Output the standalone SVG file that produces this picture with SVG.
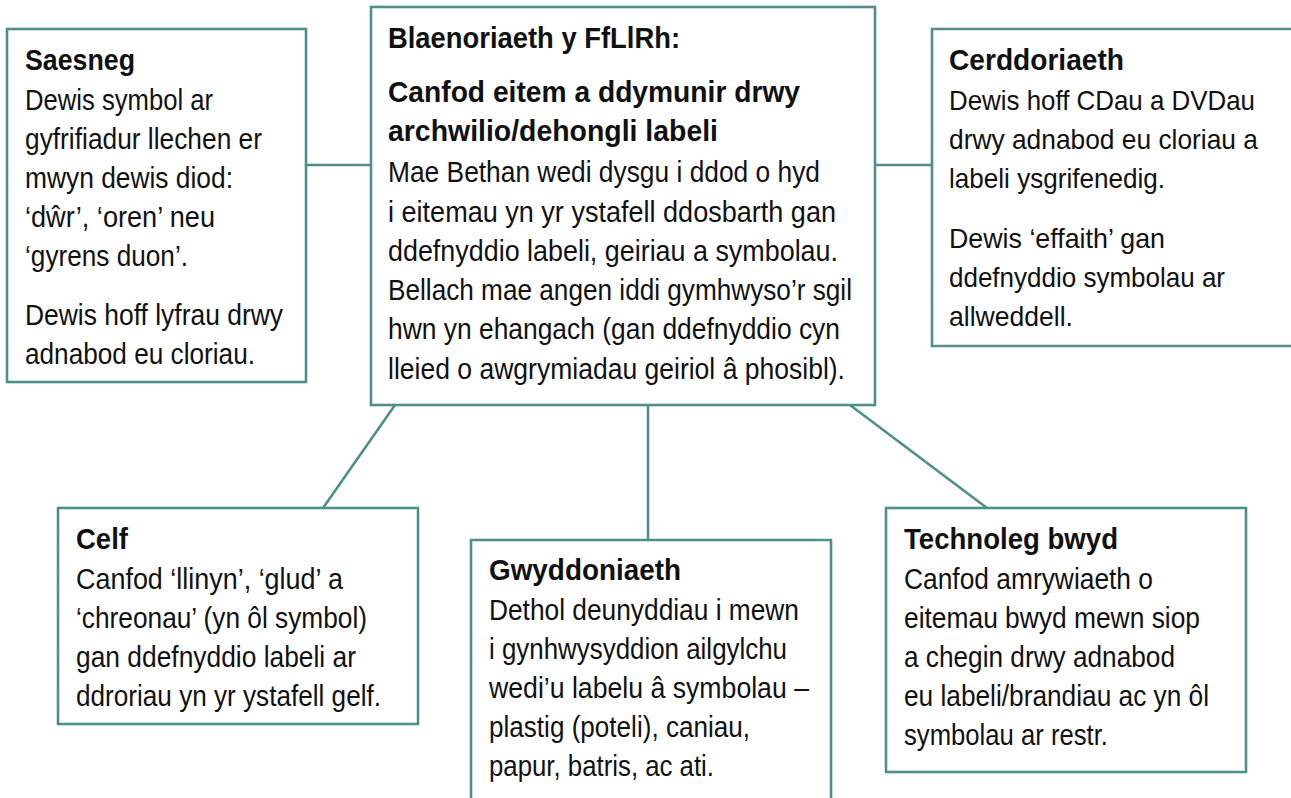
<svg xmlns="http://www.w3.org/2000/svg" width="1291" height="798" viewBox="0 0 1291 798">
<style>
.box{fill:#fff;stroke:#4e9088;stroke-width:2.6}
.ln{stroke:#4e9088;stroke-width:2.6;fill:none}
text{font-family:"Liberation Sans",Arial,sans-serif;font-size:30px;fill:#111}
.h{font-weight:bold}
.s{font-size:28px}
</style>
<rect width="1291" height="798" fill="#fff"/>
<g id="connectors">
<line class="ln" x1="306" y1="165" x2="371" y2="165"/>
<line class="ln" x1="875" y1="165" x2="932" y2="165"/>
<line class="ln" x1="395" y1="405" x2="323" y2="508"/>
<line class="ln" x1="648" y1="405" x2="648" y2="540"/>
<line class="ln" x1="850" y1="405" x2="987" y2="508"/>
</g>
<g id="saesneg">
<rect class="box" x="7" y="29" width="299" height="353"/>
<text class="h" x="25" y="70" textLength="110" lengthAdjust="spacingAndGlyphs">Saesneg</text>
<text x="25" y="110" textLength="188" lengthAdjust="spacingAndGlyphs">Dewis symbol ar</text>
<text x="25" y="149" textLength="237" lengthAdjust="spacingAndGlyphs">gyfrifiadur llechen er</text>
<text x="25" y="188" textLength="208" lengthAdjust="spacingAndGlyphs">mwyn dewis diod:</text>
<text x="25" y="227" textLength="190" lengthAdjust="spacingAndGlyphs">‘dŵr’, ‘oren’ neu</text>
<text x="25" y="266" textLength="163" lengthAdjust="spacingAndGlyphs">‘gyrens duon’.</text>
<text x="25" y="325" textLength="258" lengthAdjust="spacingAndGlyphs">Dewis hoff lyfrau drwy</text>
<text x="25" y="364" textLength="230" lengthAdjust="spacingAndGlyphs">adnabod eu cloriau.</text>
</g>
<g id="blaenoriaeth">
<rect class="box" x="371" y="7" width="504" height="398"/>
<text class="h" x="388" y="48" textLength="292" lengthAdjust="spacingAndGlyphs">Blaenoriaeth y FfLlRh:</text>
<text class="h" x="388" y="102" textLength="412" lengthAdjust="spacingAndGlyphs">Canfod eitem a ddymunir drwy</text>
<text class="h" x="388" y="141" textLength="330" lengthAdjust="spacingAndGlyphs">archwilio/dehongli labeli</text>
<text x="388" y="182" textLength="432" lengthAdjust="spacingAndGlyphs">Mae Bethan wedi dysgu i ddod o hyd</text>
<text x="388" y="222" textLength="448" lengthAdjust="spacingAndGlyphs">i eitemau yn yr ystafell ddosbarth gan</text>
<text x="388" y="261" textLength="450" lengthAdjust="spacingAndGlyphs">ddefnyddio labeli, geiriau a symbolau.</text>
<text x="388" y="300" textLength="464" lengthAdjust="spacingAndGlyphs">Bellach mae angen iddi gymhwyso’r sgil</text>
<text x="388" y="339" textLength="452" lengthAdjust="spacingAndGlyphs">hwn yn ehangach (gan ddefnyddio cyn</text>
<text x="388" y="379" textLength="457" lengthAdjust="spacingAndGlyphs">lleied o awgrymiadau geiriol â phosibl).</text>
</g>
<g id="cerddoriaeth">
<path class="box" d="M1292 29 H932 V346 H1292"/>
<text class="h" x="949" y="70" textLength="175" lengthAdjust="spacingAndGlyphs">Cerddoriaeth</text>
<text class="s" x="949" y="110" textLength="306" lengthAdjust="spacingAndGlyphs">Dewis hoff CDau a DVDau</text>
<text class="s" x="949" y="149" textLength="309" lengthAdjust="spacingAndGlyphs">drwy adnabod eu cloriau a</text>
<text class="s" x="949" y="188" textLength="216" lengthAdjust="spacingAndGlyphs">labeli ysgrifenedig.</text>
<text class="s" x="949" y="248" textLength="216" lengthAdjust="spacingAndGlyphs">Dewis ‘effaith’ gan</text>
<text class="s" x="949" y="287" textLength="276" lengthAdjust="spacingAndGlyphs">ddefnyddio symbolau ar</text>
<text class="s" x="949" y="326" textLength="124" lengthAdjust="spacingAndGlyphs">allweddell.</text>
</g>
<g id="celf">
<rect class="box" x="58" y="508" width="360" height="216"/>
<text class="h" x="76" y="549" textLength="52" lengthAdjust="spacingAndGlyphs">Celf</text>
<text x="76" y="589" textLength="267" lengthAdjust="spacingAndGlyphs">Canfod ‘llinyn’, ‘glud’ a</text>
<text x="76" y="628" textLength="291" lengthAdjust="spacingAndGlyphs">‘chreonau’ (yn ôl symbol)</text>
<text x="76" y="667" textLength="280" lengthAdjust="spacingAndGlyphs">gan ddefnyddio labeli ar</text>
<text x="76" y="706" textLength="305" lengthAdjust="spacingAndGlyphs">ddroriau yn yr ystafell gelf.</text>
</g>
<g id="gwyddoniaeth">
<path class="box" d="M471 799 V540 H831 V799"/>
<text class="h" x="489" y="580" textLength="192" lengthAdjust="spacingAndGlyphs">Gwyddoniaeth</text>
<text x="489" y="620" textLength="310" lengthAdjust="spacingAndGlyphs">Dethol deunyddiau i mewn</text>
<text x="489" y="659" textLength="298" lengthAdjust="spacingAndGlyphs">i gynhwysyddion ailgylchu</text>
<text x="489" y="698" textLength="320" lengthAdjust="spacingAndGlyphs">wedi’u labelu â symbolau –</text>
<text x="489" y="737" textLength="261" lengthAdjust="spacingAndGlyphs">plastig (poteli), caniau,</text>
<text x="489" y="776" textLength="225" lengthAdjust="spacingAndGlyphs">papur, batris, ac ati.</text>
</g>
<g id="technoleg">
<rect class="box" x="886" y="508" width="360" height="264"/>
<text class="h" x="904" y="549" textLength="214" lengthAdjust="spacingAndGlyphs">Technoleg bwyd</text>
<text x="904" y="589" textLength="249" lengthAdjust="spacingAndGlyphs">Canfod amrywiaeth o</text>
<text x="904" y="628" textLength="296" lengthAdjust="spacingAndGlyphs">eitemau bwyd mewn siop</text>
<text x="904" y="667" textLength="271" lengthAdjust="spacingAndGlyphs">a chegin drwy adnabod</text>
<text x="904" y="706" textLength="305" lengthAdjust="spacingAndGlyphs">eu labeli/brandiau ac yn ôl</text>
<text x="904" y="745" textLength="204" lengthAdjust="spacingAndGlyphs">symbolau ar restr.</text>
</g>
</svg>
